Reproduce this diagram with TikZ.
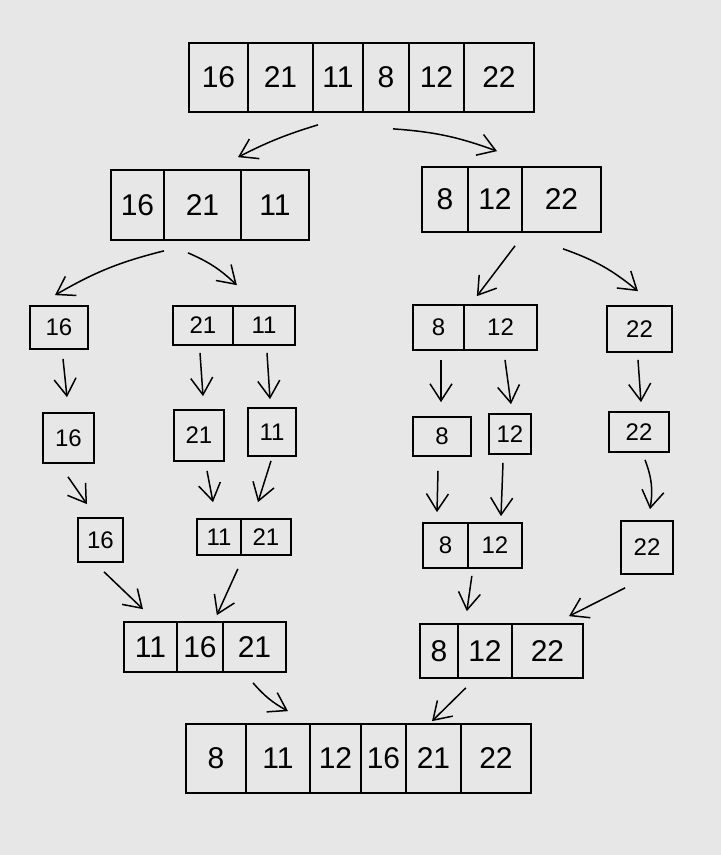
\documentclass[tikz,border=0pt]{standalone}
\usepackage{fontspec}
\setmainfont{Liberation Sans}
\usetikzlibrary{arrows.meta,calc}
\definecolor{bg}{RGB}{231,231,231}
\tikzset{
  cell/.style={draw, line width=1.7pt, inner sep=0pt, anchor=center},
  arr/.style={line width=1.5pt, -{Straight Barb[length=17pt,width=22pt]}},
  big/.style={font=\fontsize{30}{30}\selectfont},
  small/.style={font=\fontsize{24}{24}\selectfont}
}
\newcommand{\cellbox}[7]{\node[cell,#6,minimum width={#3-#2},minimum height={#5-#4}] (#1) at ({(#2+#3)/2},{(#4+#5)/2}) {#7};}
\newcommand{\conn}[5]{\draw[arr] ($(#1)+(#2)$) to[#5] ($(#3)+(#4)$);}
\begin{document}
\begin{tikzpicture}[x=1pt,y=-1pt]
\fill[bg] (0,0) rectangle (721,855);
\useasboundingbox (0,0) rectangle (721,855);
% level 1
\cellbox{a1}{189}{248}{43}{112}{big}{16}
\cellbox{a2}{248}{313}{43}{112}{big}{21}
\cellbox{a3}{313}{363}{43}{112}{big}{11}
\cellbox{a4}{363}{409}{43}{112}{big}{8}
\cellbox{a5}{409}{464}{43}{112}{big}{12}
\cellbox{a6}{464}{534}{43}{112}{big}{22}
% level 2
\cellbox{b1}{111}{164}{170}{240}{big}{16}
\cellbox{b2}{164}{241}{170}{240}{big}{21}
\cellbox{b3}{241}{309}{170}{240}{big}{11}
\cellbox{c1}{422}{468}{167}{232}{big}{8}
\cellbox{c2}{468}{522}{167}{232}{big}{12}
\cellbox{c3}{522}{601}{167}{232}{big}{22}
% level 3
\cellbox{d1}{30}{88}{306}{349}{small}{16}
\cellbox{d2}{173}{233}{306}{345}{small}{21}
\cellbox{d3}{233}{295}{306}{345}{small}{11}
\cellbox{e1}{413}{464}{305}{350}{small}{8}
\cellbox{e2}{464}{537}{305}{350}{small}{12}
\cellbox{e3}{607}{672}{306}{352}{small}{22}
% level 4
\cellbox{f1}{43}{94}{413}{463}{small}{16}
\cellbox{f2}{174}{224}{410}{461}{small}{21}
\cellbox{f3}{248}{296}{408}{456}{small}{11}
\cellbox{g1}{413}{471}{417}{456}{small}{8}
\cellbox{g2}{489}{531}{414}{454}{small}{12}
\cellbox{g3}{609}{669}{412}{452}{small}{22}
% level 5
\cellbox{h1}{78}{123}{518}{562}{small}{16}
\cellbox{h2}{197}{241}{519}{555}{small}{11}
\cellbox{h3}{241}{291}{519}{555}{small}{21}
\cellbox{i1}{423}{468}{523}{568}{small}{8}
\cellbox{i2}{468}{522}{523}{568}{small}{12}
\cellbox{i3}{621}{673}{521}{574}{small}{22}
% level 6
\cellbox{j1}{124}{177}{622}{672}{big}{11}
\cellbox{j2}{177}{223}{622}{672}{big}{16}
\cellbox{j3}{223}{286}{622}{672}{big}{21}
\cellbox{k1}{420}{458}{624}{678}{big}{8}
\cellbox{k2}{458}{512}{624}{678}{big}{12}
\cellbox{k3}{512}{583}{624}{678}{big}{22}
% level 7
\cellbox{m1}{186}{246}{724}{793}{big}{8}
\cellbox{m2}{246}{310}{724}{793}{big}{11}
\cellbox{m3}{310}{361}{724}{793}{big}{12}
\cellbox{m4}{361}{406}{724}{793}{big}{16}
\cellbox{m5}{406}{461}{724}{793}{big}{21}
\cellbox{m6}{461}{531}{724}{793}{big}{22}
% connectors
\conn{a3.south}{-20,12}{b2.north}{35.5,-12}{bend right=5}
\conn{a4.south}{7,16}{c2.north}{2,-15}{bend left=8}
\conn{b1.south}{26.5,10}{d1.north}{-4,-10}{bend right=8}
\conn{b2.south}{-14.5,12}{d2.north east}{3,-20}{bend left=10}
\conn{c2.south}{20,13}{e1.north east}{12,-8}{}
\conn{c3.south}{1.5,16}{e3.north}{-1.5,-14}{bend left=10}
\conn{d1.south}{4,9}{f1.north}{-1.5,-15}{}
\conn{d2.south}{-3,7}{f2.north}{4,-13}{}
\conn{d3.south}{3,7}{f3.north}{-2,-8}{}
\conn{e1.south}{2.5,9}{g1.north}{-1,-14}{}
\conn{e2.south}{4.5,9}{g2.north}{1,-9}{}
\conn{e3.south}{-1.5,7}{g3.north}{2,-9}{}
\conn{f1.south}{-0.5,13}{h1.north}{-13.5,-13}{}
\conn{f2.south}{8,9}{h2.north}{-6,-16}{}
\conn{f3.south}{-1,4}{h3.north}{-8,-16}{}
\conn{g1.south}{-4,14}{i1.north}{-8.5,-10}{}
\conn{g2.south}{-7,8}{i2.north}{6,-6}{}
\conn{g3.south}{6,7}{i3.north}{3,-11}{bend left=15}
\conn{h1.south}{3.5,9}{j1.north}{-7.5,-12}{}
\conn{h2.south east}{-4,13}{j2.north east}{-7,-6}{}
\conn{i1.south east}{3,7}{k1.north east}{8,-12}{}
\conn{i3.south west}{5,13}{k3.north}{21.5,-7}{}
\conn{j3.south}{-1.5,10}{m2.north}{10,-12}{bend right=10}
\conn{k1.south east}{7,9}{m5.north}{-1.5,-2}{}
\end{tikzpicture}
\end{document}
